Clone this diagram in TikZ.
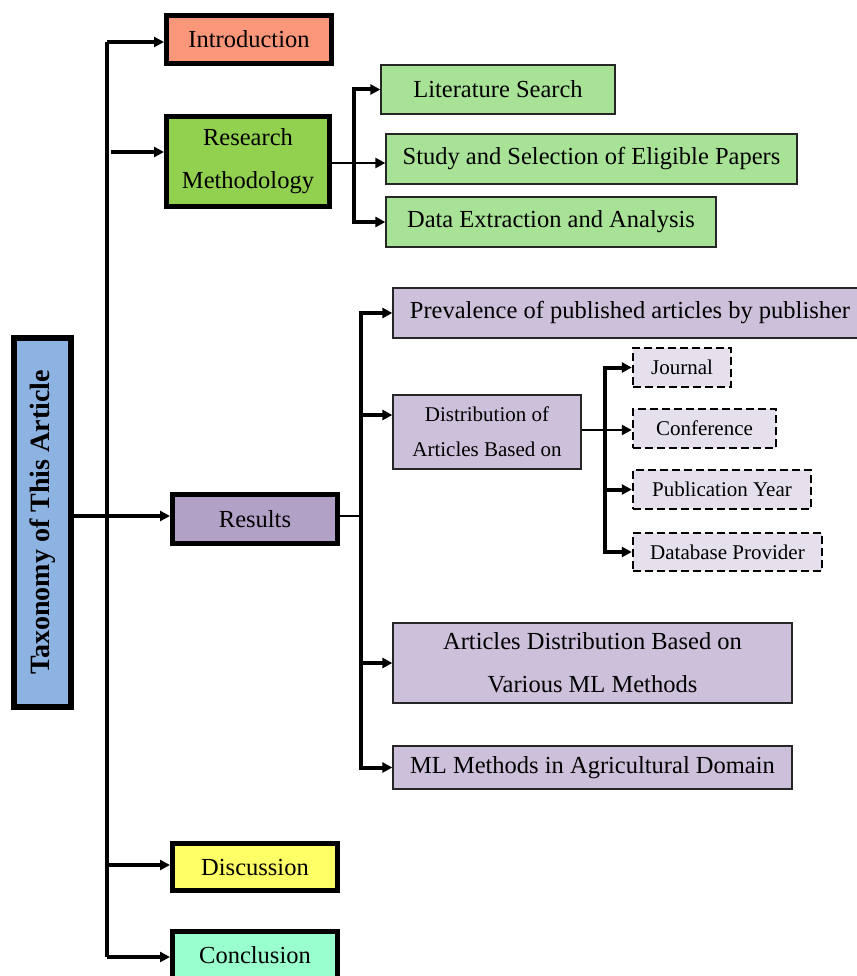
\documentclass[tikz,border=0pt]{standalone}
\usepackage{fontspec}
\setmainfont{Liberation Serif}
\usetikzlibrary{arrows.meta}

\definecolor{rootblue}{RGB}{141,179,226}
\definecolor{introsalmon}{RGB}{250,150,122}
\definecolor{methgreen}{RGB}{146,208,80}
\definecolor{subgreen}{RGB}{168,226,150}
\definecolor{respurple}{RGB}{178,161,199}
\definecolor{subpurple}{RGB}{204,192,218}
\definecolor{leafpurple}{RGB}{229,224,236}
\definecolor{discyellow}{RGB}{255,255,102}
\definecolor{concmint}{RGB}{153,255,204}

\tikzset{
  mainfont/.style={font=\fontsize{24.5}{43}\selectfont},
  smallfont/.style={font=\fontsize{21}{35}\selectfont},
  thickbox/.style={draw=black, line width=5pt, inner sep=0pt, align=center, mainfont},
  thinbox/.style={draw=black!85, line width=1.3pt, inner sep=0pt, align=center, mainfont},
  leafbox/.style={draw=black, line width=2.4pt, dash pattern=on 8pt off 4pt, fill=leafpurple, inner sep=0pt, align=center, smallfont},
  arr/.style={line width=4pt, -{Triangle[length=10pt,width=10pt]}},
  thruarr/.style={line width=2.4pt, -{Triangle[length=10pt,width=10pt]}},
  trunk/.style={line width=4pt},
}

\begin{document}
\begin{tikzpicture}[x=1pt,y=-1pt]
\useasboundingbox (0,0) rectangle (856,976);

% root
\node[draw=black, line width=6pt, fill=rootblue, minimum width=57pt, minimum height=369pt, inner sep=0pt] (root) at (42.5,522.5) {};
\node[rotate=90, font=\fontsize{28}{30}\selectfont\bfseries] (roottext) at (root.center) {Taxonomy of This Article};

% first level
\node[thickbox, fill=introsalmon, minimum width=165pt, minimum height=48pt] (intro) at (249,39.5) {Introduction};
\node[thickbox, fill=methgreen, minimum width=163pt, minimum height=90pt] (meth) at (248,161.5) {Research\\Methodology};
\node[thickbox, fill=respurple, minimum width=165pt, minimum height=49pt] (res) at (255,519) {Results};
\node[thickbox, fill=discyellow, minimum width=165pt, minimum height=47pt] (disc) at (255,867) {Discussion};
\node[thickbox, fill=concmint, minimum width=165pt, minimum height=49pt] (conc) at (255,955.5) {Conclusion};

% methodology children
\node[thinbox, fill=subgreen, minimum width=234pt, minimum height=49pt] (lit) at (498,89.5) {Literature Search};
\node[thinbox, fill=subgreen, minimum width=411pt, minimum height=50pt] (study) at (591.5,159) {Study and Selection of Eligible Papers};
\node[thinbox, fill=subgreen, minimum width=330pt, minimum height=50pt] (data) at (551,222) {Data Extraction and Analysis};

% results children
\node[thinbox, fill=subpurple, minimum width=474pt, minimum height=50pt] (prev) at (630,313) {Prevalence of published articles by publisher};
\node[thinbox, fill=subpurple, minimum width=188pt, minimum height=74pt, smallfont] (dist) at (487,432) {Distribution of\\Articles Based on};
\node[thinbox, fill=subpurple, minimum width=399pt, minimum height=80pt] (artd) at (592.5,663) {Articles Distribution Based on\\Various ML Methods};
\node[thinbox, fill=subpurple, minimum width=399pt, minimum height=43pt] (mld) at (592.5,767.5) {ML Methods in Agricultural Domain};

% distribution leaves
\node[leafbox, minimum width=98pt, minimum height=39pt] (jour) at (682,367.5) {Journal};
\node[leafbox, minimum width=143pt, minimum height=39pt] (conf) at (704.5,428.5) {Conference};
\node[leafbox, minimum width=178pt, minimum height=39pt] (pub) at (722,489.5) {Publication Year};
\node[leafbox, minimum width=189pt, minimum height=38pt] (db) at (727.5,552) {Database Provider};

% main trunk
\coordinate (tTop) at (107,42);
\coordinate (tMeth) at (110.5,152);
\coordinate (tDisc) at (107,865);
\coordinate (tBot) at (107,957);
\draw[trunk] (tTop) -- (tBot);
\draw[arr] (tTop) -- (tTop -| intro.west);
\draw[arr] (tMeth) -- (tMeth -| meth.west);
\draw[arr] (tDisc) -- (tDisc -| disc.west);
\draw[arr] (tBot) -- (tBot -| conc.west);
\coordinate (rootOut) at (74,516);
\draw[arr] (rootOut -| root.east) -- (rootOut -| res.west);

% methodology branch
\coordinate (mT) at (354,163);
\draw[thruarr] (meth.east |- mT) -- (mT -| study.west);
\draw[arr] (mT) |- (lit.west);
\draw[arr] (mT) |- (data.west);

% results branch
\coordinate (rT) at (361,516);
\coordinate (rDist) at (361,415);
\draw[line width=2.6pt] (res.east |- rT) -- (rT);
\draw[arr] (rT) |- (prev.west);
\draw[arr] (rDist) -- (rDist -| dist.west);
\draw[arr] (rT) |- (artd.west);
\draw[arr] (rT) |- (mld.west);

% distribution branch
\coordinate (dT) at (605,430);
\draw[thruarr] (dist.east |- dT) -- (dT -| conf.west);
\draw[arr] (dT) |- (jour.west);
\draw[arr] (dT) |- (pub.west);
\draw[arr] (dT) |- (db.west);
\end{tikzpicture}
\end{document}
